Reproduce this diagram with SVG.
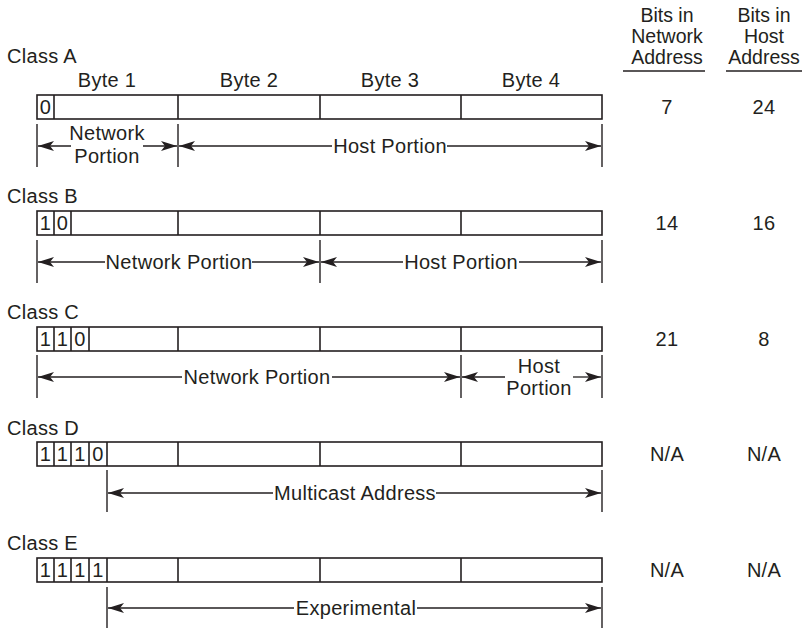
<svg xmlns="http://www.w3.org/2000/svg" width="805" height="629" viewBox="0 0 805 629">
<style>
text{font-family:"Liberation Sans",Arial,sans-serif;font-size:20px;letter-spacing:0.3px;fill:#231f20}
.m{text-anchor:middle}
.h{font-size:19.5px;letter-spacing:0}
.box{fill:#fff;stroke:#231f20;stroke-width:1.6}
.dv{stroke:#231f20;stroke-width:1.6}
.tk{stroke:#231f20;stroke-width:1.4}
.ar{stroke:#231f20;stroke-width:1.3;fill:none}
.ul{stroke:#231f20;stroke-width:1.6}
</style>
<defs>
<marker id="ah" viewBox="0 0 16 11" refX="16" refY="5.5" markerWidth="16" markerHeight="11" orient="auto-start-reverse" markerUnits="userSpaceOnUse">
<path d="M0,0.5 L16,5.5 L0,10.5 L4,5.5 z" fill="#231f20"/>
</marker>
</defs>
<rect width="805" height="629" fill="#fff"/>
<g id="header">
<text class="m h" x="667" y="22">Bits in</text>
<text class="m h" x="667" y="43">Network</text>
<text class="m h" x="667" y="64">Address</text>
<line class="ul" x1="623" y1="71" x2="705" y2="71"/>
<text class="m h" x="764" y="22">Bits in</text>
<text class="m h" x="764" y="43">Host</text>
<text class="m h" x="764" y="64">Address</text>
<line class="ul" x1="726" y1="71" x2="802" y2="71"/>
</g>
<g id="classA">
<text x="7" y="63">Class A</text>
<text class="m" x="107" y="87">Byte 1</text>
<text class="m" x="249" y="87">Byte 2</text>
<text class="m" x="390" y="87">Byte 3</text>
<text class="m" x="531" y="87">Byte 4</text>
<rect class="box" x="37" y="95" width="565" height="24"/>
<line class="dv" x1="54" y1="95" x2="54" y2="119"/>
<line class="dv" x1="178" y1="95" x2="178" y2="119"/>
<line class="dv" x1="320" y1="95" x2="320" y2="119"/>
<line class="dv" x1="461" y1="95" x2="461" y2="119"/>
<text class="m" x="45.5" y="114">0</text>
<text class="m" x="667" y="114">7</text>
<text class="m" x="764" y="114">24</text>
</g>
<g id="classB">
<text x="7" y="203">Class B</text>
<rect class="box" x="37" y="211" width="565" height="24"/>
<line class="dv" x1="54" y1="211" x2="54" y2="235"/>
<line class="dv" x1="71" y1="211" x2="71" y2="235"/>
<line class="dv" x1="178" y1="211" x2="178" y2="235"/>
<line class="dv" x1="320" y1="211" x2="320" y2="235"/>
<line class="dv" x1="461" y1="211" x2="461" y2="235"/>
<text class="m" x="45.5" y="230">1</text>
<text class="m" x="62.5" y="230">0</text>
<text class="m" x="667" y="230">14</text>
<text class="m" x="764" y="230">16</text>
</g>
<g id="classC">
<text x="7" y="319">Class C</text>
<rect class="box" x="37" y="327" width="565" height="24"/>
<line class="dv" x1="54" y1="327" x2="54" y2="351"/>
<line class="dv" x1="71" y1="327" x2="71" y2="351"/>
<line class="dv" x1="89" y1="327" x2="89" y2="351"/>
<line class="dv" x1="178" y1="327" x2="178" y2="351"/>
<line class="dv" x1="320" y1="327" x2="320" y2="351"/>
<line class="dv" x1="461" y1="327" x2="461" y2="351"/>
<text class="m" x="45.5" y="346">1</text>
<text class="m" x="62.5" y="346">1</text>
<text class="m" x="80" y="346">0</text>
<text class="m" x="667" y="346">21</text>
<text class="m" x="764" y="346">8</text>
</g>
<g id="classD">
<text x="7" y="435">Class D</text>
<rect class="box" x="37" y="442" width="565" height="24"/>
<line class="dv" x1="54" y1="442" x2="54" y2="466"/>
<line class="dv" x1="71" y1="442" x2="71" y2="466"/>
<line class="dv" x1="89" y1="442" x2="89" y2="466"/>
<line class="dv" x1="107" y1="442" x2="107" y2="466"/>
<line class="dv" x1="178" y1="442" x2="178" y2="466"/>
<line class="dv" x1="320" y1="442" x2="320" y2="466"/>
<line class="dv" x1="461" y1="442" x2="461" y2="466"/>
<text class="m" x="45.5" y="461">1</text>
<text class="m" x="62.5" y="461">1</text>
<text class="m" x="80" y="461">1</text>
<text class="m" x="98" y="461">0</text>
<text class="m" x="667" y="461">N/A</text>
<text class="m" x="764" y="461">N/A</text>
</g>
<g id="classE">
<text x="7" y="550">Class E</text>
<rect class="box" x="37" y="558" width="565" height="24"/>
<line class="dv" x1="54" y1="558" x2="54" y2="582"/>
<line class="dv" x1="71" y1="558" x2="71" y2="582"/>
<line class="dv" x1="89" y1="558" x2="89" y2="582"/>
<line class="dv" x1="107" y1="558" x2="107" y2="582"/>
<line class="dv" x1="178" y1="558" x2="178" y2="582"/>
<line class="dv" x1="320" y1="558" x2="320" y2="582"/>
<line class="dv" x1="461" y1="558" x2="461" y2="582"/>
<text class="m" x="45.5" y="577">1</text>
<text class="m" x="62.5" y="577">1</text>
<text class="m" x="80" y="577">1</text>
<text class="m" x="98" y="577">1</text>
<text class="m" x="667" y="577">N/A</text>
<text class="m" x="764" y="577">N/A</text>
</g>
<g id="connectors">
<line class="tk" x1="37" y1="124" x2="37" y2="167"/>
<line class="tk" x1="178" y1="124" x2="178" y2="167"/>
<line class="tk" x1="602" y1="124" x2="602" y2="167"/>
<line class="ar" x1="71" y1="146" x2="38" y2="146" marker-end="url(#ah)"/>
<line class="ar" x1="143" y1="146" x2="177" y2="146" marker-end="url(#ah)"/>
<line class="ar" x1="332" y1="146" x2="179" y2="146" marker-end="url(#ah)"/>
<line class="ar" x1="447" y1="146" x2="601" y2="146" marker-end="url(#ah)"/>
<line class="tk" x1="37" y1="240" x2="37" y2="283"/>
<line class="tk" x1="320" y1="240" x2="320" y2="283"/>
<line class="tk" x1="602" y1="240" x2="602" y2="283"/>
<line class="ar" x1="105" y1="262" x2="38" y2="262" marker-end="url(#ah)"/>
<line class="ar" x1="252" y1="262" x2="319" y2="262" marker-end="url(#ah)"/>
<line class="ar" x1="403" y1="262" x2="321" y2="262" marker-end="url(#ah)"/>
<line class="ar" x1="519" y1="262" x2="601" y2="262" marker-end="url(#ah)"/>
<line class="tk" x1="37" y1="355" x2="37" y2="398"/>
<line class="tk" x1="461" y1="355" x2="461" y2="398"/>
<line class="tk" x1="602" y1="355" x2="602" y2="398"/>
<line class="ar" x1="182" y1="377" x2="38" y2="377" marker-end="url(#ah)"/>
<line class="ar" x1="332" y1="377" x2="460" y2="377" marker-end="url(#ah)"/>
<line class="ar" x1="505" y1="377" x2="462" y2="377" marker-end="url(#ah)"/>
<line class="ar" x1="573" y1="377" x2="601" y2="377" marker-end="url(#ah)"/>
<line class="tk" x1="107" y1="470" x2="107" y2="512"/>
<line class="tk" x1="602" y1="470" x2="602" y2="512"/>
<line class="ar" x1="273" y1="493" x2="108" y2="493" marker-end="url(#ah)"/>
<line class="ar" x1="436" y1="493" x2="601" y2="493" marker-end="url(#ah)"/>
<line class="tk" x1="107" y1="587" x2="107" y2="628"/>
<line class="tk" x1="602" y1="587" x2="602" y2="628"/>
<line class="ar" x1="294" y1="608" x2="108" y2="608" marker-end="url(#ah)"/>
<line class="ar" x1="417" y1="608" x2="601" y2="608" marker-end="url(#ah)"/>
</g>
<g id="labels">
<text class="m" x="107" y="140">Network</text>
<text class="m" x="107" y="163">Portion</text>
<text class="m" x="390" y="153">Host Portion</text>
<text class="m" x="179" y="269">Network Portion</text>
<text class="m" x="461" y="269">Host Portion</text>
<text class="m" x="257" y="384">Network Portion</text>
<text class="m" x="539" y="373">Host</text>
<text class="m" x="539" y="395">Portion</text>
<text class="m" x="355" y="500">Multicast Address</text>
<text class="m" x="356" y="615">Experimental</text>
</g>
</svg>
